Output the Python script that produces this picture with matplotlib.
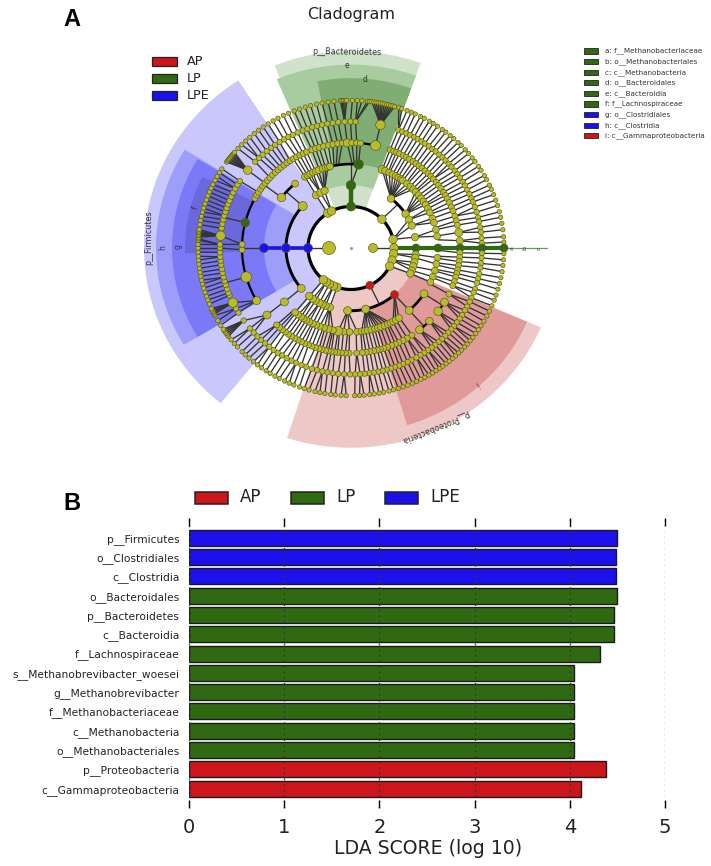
import numpy as np
import matplotlib
matplotlib.use("Agg")
import matplotlib.pyplot as plt
from matplotlib.collections import LineCollection
from matplotlib.patches import Polygon, Rectangle

W, H = 711, 866
RED, GREEN, BLUE = "#cc161c", "#2f6a12", "#1c10ec"
NODE = "#b8bb2a"

# ---------- bar data ----------
taxa = ["p__Firmicutes", "o__Clostridiales", "c__Clostridia", "o__Bacteroidales",
        "p__Bacteroidetes", "c__Bacteroidia", "f__Lachnospiraceae",
        "s__Methanobrevibacter_woesei", "g__Methanobrevibacter", "f__Methanobacteriaceae",
        "c__Methanobacteria", "o__Methanobacteriales", "p__Proteobacteria",
        "c__Gammaproteobacteria"]
lda = [4.50, 4.49, 4.49, 4.50, 4.465, 4.465, 4.32, 4.045, 4.045, 4.045, 4.045, 4.045, 4.38, 4.12]
groups = ["LPE", "LPE", "LPE", "LP", "LP", "LP", "LP", "LP", "LP", "LP", "LP", "LP", "AP", "AP"]
legend_groups = ["AP", "LP", "LPE"]
clade_keys = ["a: f__Methanobacteriaceae", "b: o__Methanobacteriales", "c: c__Methanobacteria",
              "d: o__Bacteroidales", "e: c__Bacteroidia", "f: f__Lachnospiraceae",
              "g: o__Clostridiales", "h: c__Clostridia", "i: c__Gammaproteobacteria"]
clade_key_groups = ["LP", "LP", "LP", "LP", "LP", "LP", "LPE", "LPE", "AP"]

# ---------- cladogram node angles (degrees) per ring ----------
ring_radii = [22, 43, 65, 87, 109, 131, 153]
ring22 = [0, 180]
ring43 = [123, 117, 90, 44, 12, 0, -8, -17, -26, 296, 251, 246, 240, 235, 230, 180]
ring65 = [180, 138, 122.5, 118, 114, 90, 52, 33, 27, 21, 10, 0, -6, -9, -13, -17, -21, -24,
          312, 283, 267, 251, 247, 244, 241, 237, 234, 230, 220]
ring87 = [180, 143, 130, 122, 120, 118, 116, 114, 112, 109, 107, 105.4, 104, 85, 69, 67, 64,
          61.5, 59, 57, 55, 53.5, 50, 47, 44.4, 42, 39, 36.4, 33.6, 31, 28, 25, 20.6, 17.6,
          12.6, 8, 0, -6.6, -11, -15.6, -20, -24, -33, -48, 269, 274, 277, 279, 281, 283.5,
          286, 288, 290, 292.6, 295, 297, 299, 301, 303.5, 265, 261.6, 258, 255, 252, 249,
          246.4, 244, 241.4, 239, 237, 235, 232.6, 230, 220]
ring109 = [69, 67, 65.4, 63.6, 61.4, 59.6, 57.6, 55.4, 53.4, 51.4, 49.4, 47.2, 45, 43, 41, 38.6,
           36.6, 34.4, 32, 30, 28, 25.6, 23, 20.6, 17.6, 15, 12.6, 8.5, 4, 0, -2.6, -5, -7.4,
           -9.6, -12, -14, -16, -18.6, -21, -26, -31, -37, -44, -51, -56, -59, -61.5, -64, -66,
           -68, -70.4, -72.5, -74.4, -76, -78, -80, -82, -84, -87, 269, 267, 265, 263, 261.4,
           259.6, 258, 256.5, 254.6, 253, 251, 249, 247, 245, 243, 241, 239, 237, 235, 233,
           231, 229, 227, 219.6, 210, 196, 181, 178, 166, 151.8, 149.8, 148, 146, 144, 142,
           140, 138, 136, 134, 132, 130, 128, 126, 124, 122, 120, 118, 116, 114, 111, 109, 107,
           104.6, 102, 99.6, 97, 94.6, 92, 89.6, 87, 85, 77]
ring131 = [68.8, 67, 65, 63.2, 61.2, 59.4, 57.4, 55.7, 53.6, 51.6, 49.8, 47.6, 45.8, 43.8, 41.8,
           39.9, 37.7, 35.7, 33.8, 31.6, 29.6, 27.4, 25.3, 23.2, 21.4, 19.0, 16.5, 14.0, 12.1,
           9.4, 7.2, 4.5, 2.2, 0, -2.4, -4.5, -7, -9, -11.8, -14, -16, -18.8, -20.6, -23.2,
           -25.1, -27.6, -29.5, -32, -34, -36, -38.2, -40, -42, -44, -46, -48, -50, -52, -54,
           -56, -58, -60, -62.6, -64.4, -66.6, -68.4, -70.4, -72.2, -74.2, -76, -78, -80, -82,
           -84, -86, -88.2, 269.6, 267, 264.4, 262, 259.6, 257.4, 255, 252.6, 250, 247.8, 245.2,
           243, 240.6, 238.2, 236, 233.8, 231.4, 229, 226.6, 224.4, 222, 219.5, 215, 210.8,
           208.6, 205.6, 202, 200.8, 199, 197, 195.2, 193.4, 191.4, 189.6, 187.6, 185.8, 184,
           182, 180, 178.4, 174.4, 171, 169, 167, 165.2, 163.4, 161.6, 159.8, 158, 156, 154,
           152, 150, 148, 142, 137, 134.6, 132.4, 130, 127.6, 125.4, 123, 120.8, 118.6, 116.4,
           114, 111.6, 109.4, 107.2, 105, 102.8, 100.4, 98, 95.6, 92.8, 90.2, 88, 77]
ring153 = [68.5, 66.8, 65.2, 63.0, 61.4, 59.2, 57.5, 55.6, 53.4, 51.7, 49.6, 47.8, 45.6, 43.9,
           41.7, 39.8, 37.6, 35.9, 33.6, 31.8, 29.4, 27.6, 25.2, 23.4, 21.2, 18.9, 16.7, 14.2,
           12.0, 9.6, 7.1, 4.4, 2.3, 0, -2.2, -4.6, -6.8, -9.2, -11.6, -13.9, -16.2, -18.6,
           -20.7, -23.0, -25.3, -27.4, -29.7, -31.8, -33.6, -35.4, -37.2, -38.9, -40.6, -42.1,
           -43.8, -45.3, -46.9, -48.4, -50.1, -51.6, -53.2, -54.7, -56.3, -57.8, -59.4, -61.2,
           -62.8, -64.6, -66.3, -68.2, -70.1, -72.0, -73.9, -75.6, -77.7, -79.4, -81.3, -83.0,
           -85.1, -86.8, -88.6, 268.2, 266.3, 264.1, 262.4, 260.2, 258.3, 256.4, 254.1, 252.2,
           250.3, 248.1, 246.2, 244.3, 242.1, 240.2, 238.1, 236.3, 234.2, 232.3, 230.4, 228.2,
           226.3, 224.6, 222.1, 220.3, 218.4, 216.8, 216.1, 215.4, 214.7, 214.0, 213.4, 211.6,
           209.5, 207.2, 206.6, 206.0, 205.4, 204.8, 204.2, 202.3, 200.6, 199.1, 197.4, 195.8,
           194.1, 192.6, 191.0, 189.5, 187.9, 186.3, 184.7, 183.2, 181.6, 180.0, 178.6, 177.0,
           176.4, 175.8, 175.2, 174.6, 174.0, 173.4, 172.8, 170.9, 169.2, 167.6, 165.9, 164.3,
           162.6, 161.0, 159.3, 157.7, 156.1, 154.5, 152.7, 151.0, 149.3, 147.6, 144.4, 143.8,
           143.2, 142.6, 142.0, 141.4, 140.8, 140.2, 139.6, 137.6, 135.6, 133.5, 131.4, 129.2,
           127.1, 125.0, 122.8, 120.6, 118.5, 116.2, 114.1, 111.8, 109.7, 107.4, 105.3, 103.0,
           100.9, 98.6, 96.4, 94.0, 93.4, 92.8, 92.2, 91.6, 89.5, 87.6, 85.9, 83.8, 83.0, 82.2,
           81.4, 80.6, 79.8, 79.0, 78.2, 77.4, 76.6, 75.8, 75.0, 74.2, 73.4, 71.8, 70.6]
rings = [ring22, ring43, ring65, ring87, ring109, ring131, ring153]
ring_sizes = [9, 8.5, 7.4, 6.8, 6, 5.4, 4.4]

# ring radius, start, end, parent angle on the ring inside
thick_arcs = [(65, 138, 220, 180), (65, 33, 52, 44), (65, 267, 312, 296),
              (87, 130, 143, 138), (87, 85, 104, 90), (87, 312, 327, 312),
              (109, 152, 210, 180), (109, 77, 85, 85), (109, 323, 329, 327),
              (109, 309, 316, 312), (109, 124, 151.8, 143), (131, 182, 202, 196),
              (131, 150, 171, 166)]
arc_widths = {43: 2.3, 65: 2.1, 87: 1.9, 109: 1.6, 131: 0.9}

# highlighted / enlarged nodes: ring radius, angle, group, diameter
coloured_nodes = [(43, 180, "LPE", 9), (65, 180, "LPE", 9), (87, 180, "LPE", 9),
                  (43, 90, "LP", 9), (65, 90, "LP", 9.5), (87, 85, "LP", 9.5), (109, 166, "LP", 8.5),
                  (43, 296, "AP", 8), (65, 312, "AP", 8),
                  (65, 0, "LP", 8), (87, 0, "LP", 8), (109, 0, "LP", 8), (131, 0, "LP", 8), (153, 0, "LP", 8)]
large_nodes = [(22, 180, 13), (131, 77, 9.5), (131, 174.4, 9.5), (131, 205.6, 9.5), (131, 142, 8.5),
               (109, 196, 10.5), (109, 77, 10), (109, 210, 8), (109, 219.6, 8), (87, 143, 8.5),
               (87, 220, 8), (109, 4, 7), (109, 8.5, 8), (65, 138, 9), (65, 220, 8), (87, 69, 8),
               (109, 92, 8), (87, 261.6, 9), (87, -33, 8), (87, -48, 8), (109, -37, 8.5),
               (109, -31, 8), (109, -44, 7.5), (109, -51, 8), (65, 267, 8), (65, 283, 8),
               (65, 52, 7.5), (65, 33, 7.5)]

# shaded sectors: start, end, inner radius, outer radius, colour
sectors = [(123, 231, 43, 207, "#c9c7fb"), (148.5, 211, 65, 195, "#9f9dfa"),
           (149, 211, 87, 179, "#7b79f8"), (153.6, 182, 109, 166, "#6a68dc"),
           (70, 112, 43, 204, "#d0e3ca"), (70, 113, 65, 190, "#a9cba0"), (70, 101, 87, 176, "#80ad74"),
           (252, 336.6, 43, 207, "#eec7c7"), (287, 336.5, 65, 192, "#e09a9a")]

CX, CY = 351, 248
YSCALE = 0.965
HALF = 215

fig = plt.figure(figsize=(W / 100, H / 100), dpi=100)


def px_axes(x0, y0, x1, y1):
    return fig.add_axes([x0 / W, 1 - y1 / H, (x1 - x0) / W, (y1 - y0) / H])


colour_of = {"AP": RED, "LP": GREEN, "LPE": BLUE}

# ---------- panel A ----------
ax = px_axes(CX - HALF, CY - HALF * YSCALE, CX + HALF, CY + HALF * YSCALE)
ax.set_xlim(-HALF, HALF)
ax.set_ylim(-HALF, HALF)
ax.axis("off")


def polar(r, a):
    t = np.deg2rad(a)
    return r * np.cos(t), r * np.sin(t)


def arc_points(r, a0, a1, n=60):
    t = np.linspace(a0, a1, n)
    return np.column_stack(polar(r, t))


for a0, a1, r0, r1, col in sectors:
    pts = np.vstack([arc_points(r1, a0, a1), arc_points(r0, a1, a0)])
    ax.add_patch(Polygon(pts, closed=True, fc=col, ec="none", zorder=1))


def adiff(a, b):
    return abs((a - b + 180) % 360 - 180)


def on_arc(r, a):
    return any(ra == r and s <= a % 360 <= e for ra, s, e, _ in thick_arcs)


segs = []
for lev in range(2, len(rings)):
    r, pr = ring_radii[lev], ring_radii[lev - 1]
    for a in rings[lev]:
        if on_arc(r, a):
            continue
        p = min(rings[lev - 1], key=lambda q: adiff(q, a))
        if r == 109:
            # the bundle between these two rings runs nearly parallel in the picture
            d = (p - a + 180) % 360 - 180
            p = a + 0.4 * d
        segs.append([polar(r, a), polar(pr, p)])
for r, s, e, p in thick_arcs:
    pr = ring_radii[ring_radii.index(r) - 1]
    segs.append([polar(r, p), polar(pr, p)])
for a in ring22:
    segs.append([polar(22, a), polar(43, a)])
ax.add_collection(LineCollection(segs, colors="#333333", linewidths=0.95, zorder=3))

ax.plot(*arc_points(43, 0, 360, 200).T, color="black", lw=arc_widths[43], zorder=4)
for r, s, e, p in thick_arcs:
    ax.plot(*arc_points(r, s, e).T, color="black", lw=arc_widths[r], solid_capstyle="round", zorder=4)

# coloured branches
ax.plot(*zip(polar(43, 180), polar(87, 180)), color=BLUE, lw=2.6, zorder=5)
ax.plot(*zip(polar(43, 90), polar(65, 90)), color=GREEN, lw=3.2, zorder=5)
ax.plot(*zip(polar(65, 90), polar(87, 85)), color="#333333", lw=1.0, zorder=5)
ax.plot(*zip(polar(43, 0), polar(153, 0)), color=GREEN, lw=3.0, zorder=5)
ax.plot(*zip(polar(153, 0), polar(196, 0)), color="#6f9a62", lw=0.9, zorder=5)
for rr, lab in zip([161, 174, 188], ["a", "b", "c"]):
    x, y = polar(rr, 0)
    ax.text(x, y, lab, fontsize=4.5, rotation=90, ha="center", va="center", color="#2c4a22", zorder=6)

# nodes
big = {(r, a): d for r, a, d in large_nodes}
colnodes = {(r, a): (g, d) for r, a, g, d in coloured_nodes}
xs, ys, ss, cs = [], [], [], []
for lev, r in enumerate(ring_radii):
    for a in rings[lev]:
        d = big.get((r, a), ring_sizes[lev])
        col = NODE
        if (r, a) in colnodes:
            g, d = colnodes[(r, a)]
            col = colour_of[g]
        x, y = polar(r, a)
        xs.append(x); ys.append(y); ss.append((d * 0.72) ** 2); cs.append(col)
ax.scatter(xs, ys, s=ss, c=cs, edgecolors="#55571a", linewidths=0.45, zorder=7)
ax.scatter([0], [0], s=1.5, c="#999999", zorder=7)

# ---------- overlay: texts and legends in pixel coordinates ----------
ov = px_axes(0, 0, W, H)
ov.set_xlim(0, W)
ov.set_ylim(H, 0)
ov.axis("off")

ov.text(351, 14, "Cladogram", fontsize=11.5, ha="center", va="center", color="#222222")
ov.text(72, 20, "A", fontsize=17, fontweight="bold", family="Liberation Sans", ha="center", va="center")
ov.text(72, 504, "B", fontsize=17, fontweight="bold", family="Liberation Sans", ha="center", va="center")

for y, g in zip([61.5, 78.5, 95.5], legend_groups):
    ov.add_patch(Rectangle((152, y - 4.5), 25, 9, fc=colour_of[g], ec="#222222", lw=0.9))
    ov.text(187, y, g, fontsize=9.2, ha="left", va="center", color="#222222")

for i, (lab, g) in enumerate(zip(clade_keys, clade_key_groups)):
    y = 51 + i * 10.6
    ov.add_patch(Rectangle((584, y - 2.6), 14, 5.2, fc=colour_of[g], ec="#222222", lw=0.6))
    ov.text(605, y, lab, fontsize=5.2, ha="left", va="center", color="#333333")

ov.text(347, 52, "p__Bacteroidetes", fontsize=5.8, rotation=-1, ha="center", va="center", color="#333333")
ov.text(347, 66, "e", fontsize=5.5, ha="center", va="center", color="#333333")
ov.text(365, 80, "d", fontsize=5.5, ha="center", va="center", color="#333333")
ov.text(149, 238, "p__Firmicutes", fontsize=5.8, rotation=90, ha="center", va="center", color="#333344")
ov.text(163, 248, "h", fontsize=5.5, rotation=90, ha="center", va="center", color="#333344")
ov.text(178, 247, "g", fontsize=5.5, rotation=90, ha="center", va="center", color="#333344")
ov.text(196, 208, "f", fontsize=5.5, rotation=75, ha="center", va="center", color="#333344")
ov.text(435, 427, "p__Proteobacteria", fontsize=5.8, rotation=202, rotation_mode="anchor",
        ha="center", va="center", color="#333333")
ov.text(477, 384, "i", fontsize=5.5, rotation=215, ha="center", va="center", color="#333333")

for x, tx, g in zip([195, 291, 385], [240, 336, 430], legend_groups):
    ov.add_patch(Rectangle((x, 491.5), 33, 12.5, fc=colour_of[g], ec="#222222", lw=1.1))
    ov.text(tx, 497.5, g, fontsize=12, ha="left", va="center", color="#222222")

# ---------- panel B ----------
bx = px_axes(189, 518, 665, 808)
ypos = np.arange(len(taxa))
bx.barh(ypos, lda, height=0.83, color=[colour_of[g] for g in groups], edgecolor="#1a1a1a", linewidth=1.0, zorder=2)
bx.set_xlim(0, 5)
bx.set_ylim(14.0, -1.02)
bx.set_yticks(ypos)
bx.set_yticklabels(taxa, fontsize=7.7, color="#222222")
bx.tick_params(axis="y", length=0, pad=7)
bx.set_xticks(range(6))
bx.tick_params(axis="x", direction="in", top=True, bottom=True, length=5.5, width=1.0,
               labelsize=14, pad=7, labelcolor="#222222")
bx.grid(axis="x", linestyle=(0, (1.5, 3)), color="#333333", linewidth=0.9, zorder=3)
bx.set_axisbelow(False)
for s in bx.spines.values():
    s.set_visible(False)
bx.set_xlabel("LDA SCORE (log 10)", fontsize=13.6, color="#222222")
bx.xaxis.set_label_coords((428 - 189) / 476, -(849 - 808) / 290, transform=bx.transAxes)
bx.xaxis.label.set_va("center")

fig.savefig("out.png", dpi=100)
